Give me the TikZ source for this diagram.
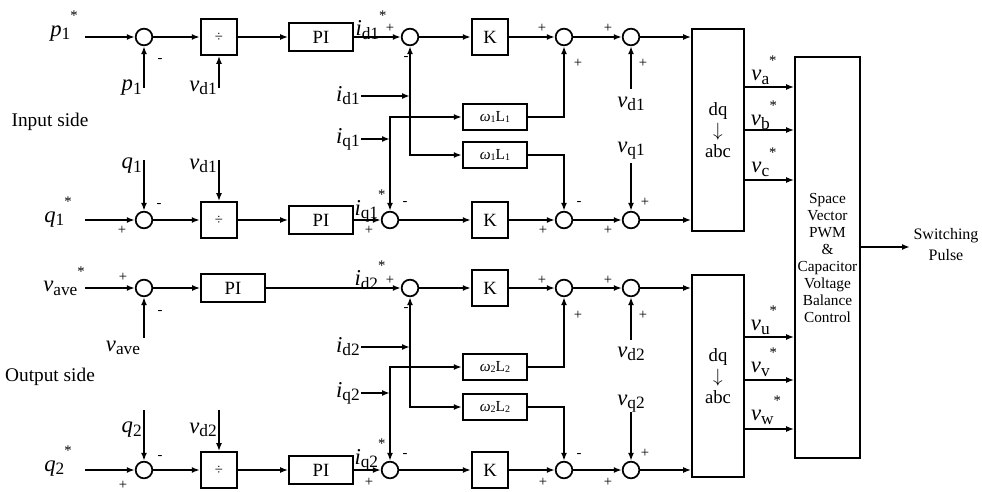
\documentclass[tikz,border=0pt]{standalone}
\usepackage{fontspec}
\setmainfont{Liberation Serif}
\usetikzlibrary{arrows.meta}
\newcommand{\fs}[1]{\fontsize{#1}{#1}\selectfont}
\newcommand{\sig}[2]{\textit{#1}\raisebox{-0.3ex}{\fs{13}#2}}
\newcommand{\sigst}[2]{\sig{#1}{#2}\raisebox{1.5ex}{\fs{11}*}}
\newcommand{\wl}[1]{\textit{ω}\raisebox{-0.2ex}{\fs{7.5}#1}L\raisebox{-0.2ex}{\fs{7.5}#1}}
\tikzset{
  box/.style={draw, line width=1.3pt, inner sep=0pt, align=center},
  kgain/.style={box, minimum width=27.5pt, minimum height=27.5pt, font=\fs{14}},
  kdiv/.style={box, minimum width=27.5pt, minimum height=27pt, font=\fs{11}},
  kpi/.style={box, minimum width=48pt, minimum height=21pt, font=\fs{14}},
  kcross/.style={box, minimum width=48.5pt, minimum height=19.5pt, font=\fs{11.5}},
  ksum/.style={draw, circle, line width=1.3pt, minimum size=12.5pt, inner sep=0pt},
  ktrans/.style={box, minimum width=39pt, minimum height=151.5pt, font=\fontsize{14}{17}\selectfont},
  kpwm/.style={box, minimum width=48.75pt, minimum height=300.75pt, font=\fontsize{11.5}{12.75}\selectfont},
  sig/.style={inner sep=0pt, font=\fs{17}},
  sgn/.style={inner sep=0pt, font=\fs{11}},
  side/.style={inner sep=0pt, font=\fs{14.5}},
  flow/.style={-{Latex[length=6pt,width=4.5pt]}, line width=1.3pt},
}

\begin{document}
\begin{tikzpicture}[x=0.75pt, y=-0.75pt]
  \useasboundingbox (0,0) rectangle (982,492);
  \node[ksum] (s1) at (144,37) {};
  \node[kdiv] (div1) at (219,37) {÷};
  \node[kpi] (pi1) at (321,37) {PI};
  \node[ksum] (s2) at (410,37) {};
  \node[kgain] (k1) at (490,37) {K};
  \node[ksum] (s3) at (564,37) {};
  \node[ksum] (s4) at (631,37) {};
  \node[ksum] (s5) at (144,220) {};
  \node[kdiv] (div2) at (219,220) {÷};
  \node[kpi] (pi2) at (321,220) {PI};
  \node[ksum] (s6) at (390,220) {};
  \node[kgain] (k2) at (490,220) {K};
  \node[ksum] (s7) at (564,220) {};
  \node[ksum] (s8) at (631,220) {};
  \node[kcross] (w1) at (495,117) {\wl{1}};
  \node[kcross] (w2) at (495,155) {\wl{1}};
  \node[ktrans] (dq1) at (718,130) {\raisebox{-6pt}{\shortstack{dq\\$\downarrow$\\abc}}};

  \node[ksum] (s9) at (144,288) {};
  \node[kpi] (pi3) at (233,288) {PI};
  \node[ksum] (s10) at (410,288) {};
  \node[kgain] (k3) at (490,288) {K};
  \node[ksum] (s11) at (564,288) {};
  \node[ksum] (s12) at (631,288) {};
  \node[ksum] (s13) at (144,470) {};
  \node[kdiv] (div3) at (219,470) {÷};
  \node[kpi] (pi4) at (321,470) {PI};
  \node[ksum] (s14) at (390,470) {};
  \node[kgain] (k4) at (490,470) {K};
  \node[ksum] (s15) at (564,470) {};
  \node[ksum] (s16) at (631,470) {};
  \node[kcross] (w3) at (495,367) {\wl{2}};
  \node[kcross] (w4) at (495,407) {\wl{2}};
  \node[ktrans] (dq2) at (718,376) {\raisebox{-6pt}{\shortstack{dq\\$\downarrow$\\abc}}};

  \node[kpwm] (pwm) at (827.5,257.5) {Space\\Vector\\PWM\\\&\\Capacitor\\Voltage\\Balance\\Control};

  \node[sig] (lp1s) at (64,26) {\sigst{p}{1}};
  \node[sig, anchor=east] (lp1) at (142,88) {\sig{p}{1}};
  \node[sig, anchor=east] (lvd1a) at (217,88) {\sig{v}{d1}};
  \node[side] (lin) at (50,122) {Input side};
  \node[sig, anchor=east] (lq1) at (142,166) {\sig{q}{1}};
  \node[sig, anchor=east] (lvd1b) at (217,166) {\sig{v}{d1}};
  \node[sig] (lq1s) at (58,212) {\sigst{q}{1}};
  \node[sig] (lid1s) at (371,25) {\sigst{i}{d1}};
  \node[sig] (liq1s) at (370,206) {\sigst{i}{q1}};
  \node[sig, anchor=east] (lid1) at (360,96) {\sig{i}{d1}};
  \node[sig, anchor=east] (liq1) at (360,139) {\sig{i}{q1}};
  \node[sig] (lvd1r) at (631,104) {\sig{v}{d1}};
  \node[sig] (lvq1r) at (631,151) {\sig{v}{q1}};

  \node[sig] (lvaves) at (64,281) {\sigst{v}{ave}};
  \node[sig] (lvave) at (123,348) {\sig{v}{ave}};
  \node[side] (lout) at (50,377) {Output side};
  \node[sig, anchor=east] (lq2) at (142,430) {\sig{q}{2}};
  \node[sig, anchor=east] (lvd2a) at (217,430) {\sig{v}{d2}};
  \node[sig] (lq2s) at (58,461) {\sigst{q}{2}};
  \node[sig] (lid2s) at (370,275) {\sigst{i}{d2}};
  \node[sig] (liq2s) at (370,455) {\sigst{i}{q2}};
  \node[sig, anchor=east] (lid2) at (360,347) {\sig{i}{d2}};
  \node[sig, anchor=east] (liq2) at (360,393) {\sig{i}{q2}};
  \node[sig] (lvd2r) at (631,354) {\sig{v}{d2}};
  \node[sig] (lvq2r) at (631,404) {\sig{v}{q2}};

  \node[sig] (la) at (764,70) {\sigst{v}{a}};
  \node[sig] (lb) at (764,115) {\sigst{v}{b}};
  \node[sig] (lc) at (764,162) {\sigst{v}{c}};
  \node[sig] (lu) at (764,320) {\sigst{v}{u}};
  \node[sig] (lv) at (764,362) {\sigst{v}{v}};
  \node[sig] (lw) at (766,410) {\sigst{v}{w}};
  \node[inner sep=0pt, align=center, font=\fontsize{12}{15.75}\selectfont] (lsw) at (946,245) {Switching\\Pulse};

  \node[sgn] (s1m) at (160,60) {-};
  \node[sgn] (s2p) at (390,28) {+};
  \node[sgn] (s2m) at (406,58) {-};
  \node[sgn] (s3p) at (542,28) {+};
  \node[sgn] (s3q) at (578,63) {+};
  \node[sgn] (s4p) at (608,28) {+};
  \node[sgn] (s4q) at (643,63) {+};
  \node[sgn] (s5p) at (122,230) {+};
  \node[sgn] (s5m) at (159,205) {-};
  \node[sgn] (s6m) at (405,203) {-};
  \node[sgn] (s6p) at (369,230) {+};
  \node[sgn] (s7m) at (579,203) {-};
  \node[sgn] (s7p) at (543,230) {+};
  \node[sgn] (s8p) at (645,202) {+};
  \node[sgn] (s8q) at (608,230) {+};
  \node[sgn] (s9p) at (123,277) {+};
  \node[sgn] (s9m) at (160,312) {-};
  \node[sgn] (s10p) at (390,280) {+};
  \node[sgn] (s10m) at (406,309) {-};
  \node[sgn] (s11p) at (542,280) {+};
  \node[sgn] (s11q) at (578,315) {+};
  \node[sgn] (s12p) at (608,280) {+};
  \node[sgn] (s12q) at (643,315) {+};
  \node[sgn] (s13p) at (123,485) {+};
  \node[sgn] (s13m) at (160,457) {-};
  \node[sgn] (s14m) at (405,455) {-};
  \node[sgn] (s14p) at (369,482) {+};
  \node[sgn] (s15m) at (579,455) {-};
  \node[sgn] (s15p) at (543,482) {+};
  \node[sgn] (s16p) at (645,453) {+};
  \node[sgn] (s16q) at (608,482) {+};

  \coordinate (p1s) at (85,37);
  \coordinate (p1b) at (144,88);
  \coordinate (vd1a) at (219,88);
  \coordinate (q1t) at (144,160);
  \coordinate (vd1b) at (219,160);
  \coordinate (q1s) at (85,220);
  \coordinate (id1) at (361,96);
  \coordinate (jd1) at (410,96);
  \coordinate (iq1) at (361,139);
  \coordinate (jq1) at (390,139);
  \coordinate (vd1r) at (631,89);
  \coordinate (vq1r) at (631,163);
  \coordinate (vaves) at (85,288);
  \coordinate (vaveb) at (144,338);
  \coordinate (q2t) at (144,410);
  \coordinate (vd2a) at (219,410);
  \coordinate (q2s) at (85,470);
  \coordinate (id2) at (361,347);
  \coordinate (jd2) at (410,347);
  \coordinate (iq2) at (361,393);
  \coordinate (jq2) at (390,393);
  \coordinate (vd2r) at (631,340);
  \coordinate (vq2r) at (631,412);
  \coordinate (ya) at (770,87);
  \coordinate (yb) at (770,130);
  \coordinate (yc) at (770,180);
  \coordinate (yu) at (770,337);
  \coordinate (yv) at (770,380);
  \coordinate (yw) at (770,429);
  \coordinate (sw) at (910,247);

  \draw[flow] (p1s) -- (s1);
  \draw[flow] (p1b) -- (s1);
  \draw[flow] (s1) -- (div1);
  \draw[flow] (vd1a) -- (div1);
  \draw[flow] (div1) -- (pi1);
  \draw[flow] (pi1) -- (s2);
  \draw[flow] (s2) -- (k1);
  \draw[flow] (k1) -- (s3);
  \draw[flow] (s3) -- (s4);
  \draw[flow] (s4) -- (s4 -| dq1.west);
  \draw[flow] (vd1r) -- (s4);
  \draw[flow] (q1s) -- (s5);
  \draw[flow] (q1t) -- (s5);
  \draw[flow] (s5) -- (div2);
  \draw[flow] (vd1b) -- (div2);
  \draw[flow] (div2) -- (pi2);
  \draw[flow] (pi2) -- (s6);
  \draw[flow] (s6) -- (k2);
  \draw[flow] (k2) -- (s7);
  \draw[flow] (s7) -- (s8);
  \draw[flow] (s8) -- (s8 -| dq1.west);
  \draw[flow] (vq1r) -- (s8);
  \draw[flow] (id1) -- (jd1);
  \draw[flow] (jd1) -- (s2);
  \draw[flow] (jd1) |- (w2);
  \draw[flow] (iq1) -- (jq1);
  \draw[flow] (jq1) -- (s6);
  \draw[flow] (jq1) |- (w1);
  \draw[flow] (w1) -| (s3);
  \draw[flow] (w2) -| (s7);

  \draw[flow] (vaves) -- (s9);
  \draw[flow] (vaveb) -- (s9);
  \draw[flow] (s9) -- (pi3);
  \draw[flow] (pi3) -- (s10);
  \draw[flow] (s10) -- (k3);
  \draw[flow] (k3) -- (s11);
  \draw[flow] (s11) -- (s12);
  \draw[flow] (s12) -- (s12 -| dq2.west);
  \draw[flow] (vd2r) -- (s12);
  \draw[flow] (q2s) -- (s13);
  \draw[flow] (q2t) -- (s13);
  \draw[flow] (s13) -- (div3);
  \draw[flow] (vd2a) -- (div3);
  \draw[flow] (div3) -- (pi4);
  \draw[flow] (pi4) -- (s14);
  \draw[flow] (s14) -- (k4);
  \draw[flow] (k4) -- (s15);
  \draw[flow] (s15) -- (s16);
  \draw[flow] (s16) -- (s16 -| dq2.west);
  \draw[flow] (vq2r) -- (s16);
  \draw[flow] (id2) -- (jd2);
  \draw[flow] (jd2) -- (s10);
  \draw[flow] (jd2) |- (w4);
  \draw[flow] (iq2) -- (jq2);
  \draw[flow] (jq2) -- (s14);
  \draw[flow] (jq2) |- (w3);
  \draw[flow] (w3) -| (s11);
  \draw[flow] (w4) -| (s15);

  \draw[flow] (dq1.east |- ya) -- (pwm.west |- ya);
  \draw[flow] (dq1.east |- yb) -- (pwm.west |- yb);
  \draw[flow] (dq1.east |- yc) -- (pwm.west |- yc);
  \draw[flow] (dq2.east |- yu) -- (pwm.west |- yu);
  \draw[flow] (dq2.east |- yv) -- (pwm.west |- yv);
  \draw[flow] (dq2.east |- yw) -- (pwm.west |- yw);
  \draw[flow] (pwm.east |- sw) -- (sw);
\end{tikzpicture}
\end{document}
